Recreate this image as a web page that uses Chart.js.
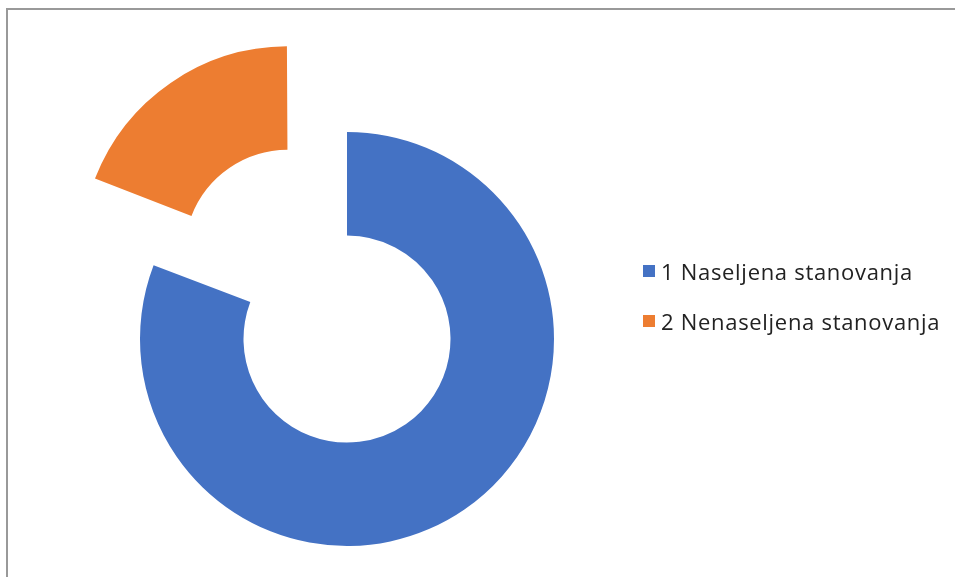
<!DOCTYPE html>
<html>
<head>
<meta charset="utf-8">
<script src="https://cdn.jsdelivr.net/npm/chart.js@4/dist/chart.umd.min.js"></script>
<style>
  html, body { margin: 0; padding: 0; background: #fff; }
  #wrap { position: relative; width: 955px; height: 577px; overflow: hidden; background: #fff; }
  #frame { position: absolute; left: 6px; top: 8px; right: -4px; bottom: -4px;
           border-top: 2px solid #999; border-left: 2px solid #999; }
  #chart { position: absolute; left: 0; top: 0; }
  #legend { position: absolute; left: 643px; top: 254px; font-family: "Open Sans", Lato, sans-serif;
            font-size: 22px; letter-spacing: 0.7px; color: #222; }
  .item { display: flex; align-items: center; height: 33px; margin-bottom: 17px; white-space: nowrap; }
  .swatch { width: 12px; height: 12px; margin-right: 6px; flex: none; }
</style>
</head>
<body>
<div id="wrap">
  <div id="frame"></div>
  <canvas id="chart" width="955" height="577"></canvas>
  <div id="legend"></div>
</div>
<script>
// Dwellings split into occupied and unoccupied (share, %)
const categories = ['1 Naseljena stanovanja', '2 Nenaseljena stanovanja'];
const shares = [80.8, 19.2];
const colors = ['#4472C4', '#ED7D31'];
// second slice is pulled out of the ring
const explode = [0, 416];

// Chart.js widens an exploded arc a little; keep its ring the same size as the rest
const keepRingRadius = {
  id: 'keepRingRadius',
  afterDatasetUpdate(chart, args) {
    const meta = chart.getDatasetMeta(args.index);
    meta.data.forEach(arc => {
      const off = (arc.options && arc.options.offset || 0) / 4;
      if (!off) return;
      const grow = off * (1 - Math.sin(Math.min(Math.PI, arc.circumference)));
      arc.outerRadius -= grow;
      arc.innerRadius -= grow;
    });
  }
};

new Chart(document.getElementById('chart'), {
  type: 'doughnut',
  data: {
    labels: categories,
    datasets: [{
      data: shares,
      backgroundColor: colors,
      borderWidth: 0,
      offset: explode,
      hoverOffset: 0,
      clip: false
    }]
  },
  options: {
    responsive: false,
    animation: false,
    events: [],
    cutout: '50%',
    radius: 207,
    layout: { padding: { left: 0, right: 261, top: 101, bottom: 0 } },
    plugins: {
      legend: { display: false },
      tooltip: { enabled: false }
    }
  },
  plugins: [keepRingRadius]
});

// legend
const legend = document.getElementById('legend');
categories.forEach((name, i) => {
  const item = document.createElement('div');
  item.className = 'item';
  const sw = document.createElement('span');
  sw.className = 'swatch';
  sw.style.background = colors[i];
  const tx = document.createElement('span');
  tx.textContent = name;
  item.appendChild(sw);
  item.appendChild(tx);
  legend.appendChild(item);
});
</script>
</body>
</html>
